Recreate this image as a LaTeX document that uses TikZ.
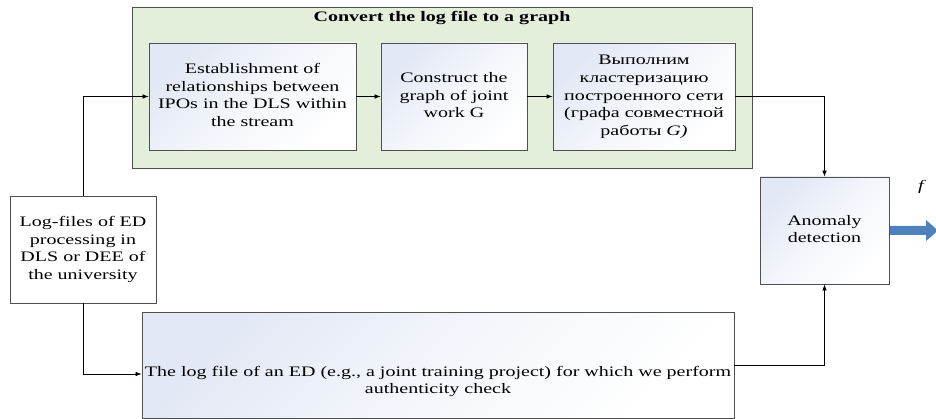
\documentclass[tikz,border=0pt]{standalone}
\usepackage{fontspec}
\usepackage{graphicx}
\setmainfont{Liberation Serif}
\newcommand{\stx}[1]{\scalebox{1.38}[1]{\begin{tabular}{@{}c@{}}#1\end{tabular}}}
\usetikzlibrary{arrows.meta}
\definecolor{grn}{HTML}{E3EFDA}
\definecolor{edgec}{HTML}{505050}
\definecolor{shd}{HTML}{E2E8F5}
\definecolor{fatblue}{HTML}{4F81BD}
\begin{document}
\begin{tikzpicture}[x=1pt,y=-1pt,
  font=\fontsize{14.5}{17.7}\selectfont,
  boxc/.style={draw=edgec, line width=0.8pt, top color=shd, bottom color=white, middle color=shd!40!white, shading angle=45,
    align=center, inner sep=0pt, minimum height=107pt},
  plainbox/.style={draw=edgec, line width=0.8pt, fill=white, align=center, inner sep=0pt, minimum height=107pt},
  conn/.style={draw=black, line width=0.7pt, -{Latex[length=6pt,width=4.5pt]}}]
\useasboundingbox (0,0) rectangle (936,419);
% group
\node[draw=edgec, line width=0.8pt, fill=grn, minimum width=620pt, minimum height=161pt, inner sep=0pt] (grp) at (442,87.5) {};
\node[font=\fontsize{14.5}{17.7}\selectfont\bfseries] (title) at (442,18) {\stx{Convert the log file to a graph}};
% boxes
\node[boxc, minimum width=207pt] (b1) at (252.5,96.5) {\stx{Establishment of\\relationships between\\IPOs in the DLS within\\the stream}};
\node[boxc, minimum width=146pt] (b2) at (454,96.5) {\stx{Construct the\\graph of joint\\work G}};
\node[boxc, minimum width=182pt] (b3) at (644,96.5) {\stx{Выполним\\кластеризацию\\построенного сети\\(графа совместной\\работы \textit{G)}}};
\node[boxc, minimum width=129pt] (an) at (824.5,230.5) {\stx{Anomaly\\detection}};
\node[plainbox, minimum width=146pt] (log) at (83,249.5) {\stx{Log-files of ED\\processing in\\DLS or DEE of\\the university}};
\node[boxc, minimum width=592pt, minimum height=106pt] (big) at (438,365) {};
\node[inner sep=0pt] (bigtxt) at (438,381.5) {\stx{The log file of an ED (e.g., a joint training project) for which we perform\\authenticity check}};
\node (f) at (922,187) {\stx{\textit{f}}};
% connectors
\draw[conn] (log.north) |- (b1.west);
\draw[conn] (b1.east) -- (b2.west);
\draw[conn] (b2.east) -- (b3.west);
\draw[conn] (b3.east) -| (an.north);
\draw[conn] (log.south) |- ([yshift=-9pt]big.west);
\draw[conn] (big.east) -| (an.south);
% output fat arrow
\coordinate (out) at (938,230.5);
\fill[fatblue] ([xshift=0.5pt,yshift=4.5pt]an.east) -- (926,226) -- (926,220) -- (out) -- (926,241) -- (926,235) -- ([xshift=0.5pt,yshift=-4.5pt]an.east) -- cycle;
\end{tikzpicture}
\end{document}
